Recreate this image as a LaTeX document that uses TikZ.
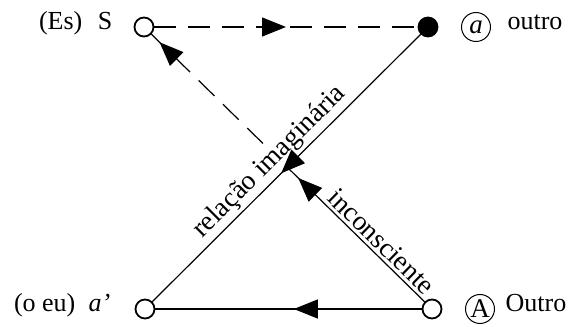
\documentclass[tikz,border=0pt]{standalone}
\usepackage{fontspec}
\setmainfont{Liberation Serif}
\usetikzlibrary{arrows.meta,decorations.markings}
\begin{document}
\begin{tikzpicture}
[
    x=1pt, y=1pt,
    line width=1.2pt,
    spot/.style={draw, circle, line width=1.8pt, minimum size=19pt, inner sep=0pt, fill=white},
    txt/.style={inner sep=0pt, font=\fontsize{26}{30}\selectfont},
    circled/.style={draw, circle, line width=1pt, minimum size=29pt, inner sep=0pt, font=\fontsize{27}{30}\selectfont},
    along/.style={sloped, above, inner sep=3pt, font=\fontsize{27.5}{32}\selectfont},
    midtip/.style={postaction={decorate}, decoration={markings, mark=at position #1 with {\arrow{Triangle[length=24pt, width=19pt]}}}},
    gap/.style={dash pattern=on 22pt off 12pt}
]
    \useasboundingbox (0,0) rectangle (574,327);
    \node [spot] (S) at (144,300) {};
    \node [spot, fill=black] (at) at (428,300) {};
    \node [spot] (ap) at (145,18) {};
    \node [spot] (A) at (432,18) {};
    \coordinate (X) at (intersection of A--S and at--ap);

    \node [txt, anchor=mid east] (Slbl) at (113,300) {S};
    \node [txt, anchor=mid east] (Es) at (83,300) {(Es)};
    \node [txt, anchor=mid east] (aplbl) at (111,18) {\textit{a’}};
    \node [txt, anchor=mid east] (eu) at (76,18) {(o eu)};
    \node [circled] (atsym) at (476,300) {\textit{a}};
    \node [txt, anchor=mid west] (outro) at (507,300) {outro};
    \node [circled] (Asym) at (480,18) {A};
    \node [txt, anchor=mid west] (Outro) at (505,18) {Outro};

    \draw [gap, midtip=0.5] (S) -- (at);
    \draw [gap, midtip=0.94] (X) -- (S);
    \path (ap) -- (at) node [along, fill=white, pos=0.48] (imag) {relação imaginária};
    \draw [midtip=0.52] (at) -- (ap);
    \draw [midtip=0.92] (A) -- (X);
    \path (X) -- (A) node [along, pos=0.62] (incon) {inconsciente};
    \draw [midtip=0.48] (A) -- (ap);
\end{tikzpicture}
\end{document}
